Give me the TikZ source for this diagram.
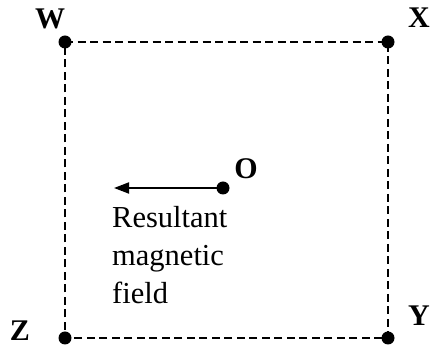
\documentclass[tikz,border=0pt]{standalone}
\usepackage{fontspec}
\setmainfont{Liberation Serif}
\usepackage{tikz}
\usetikzlibrary{positioning}
\usetikzlibrary{arrows.meta}

\tikzset{
  corner/.style={font=\fontsize{30}{36}\selectfont\bfseries},
  pt/.style={circle, fill=black, inner sep=0pt, minimum size=13pt},
  side/.style={black, line width=1.3pt, dash pattern=on 8pt off 4.5pt},
}

\begin{document}
\begin{tikzpicture}[x=1pt,y=-1pt]
  \useasboundingbox (0,0) rectangle (432,347);
  % corners of the square
  \coordinate (w) at (65,42);
  \coordinate (x) at (388,42);
  \coordinate (y) at (388,338);
  \coordinate (z) at (65,338);
  \draw[side] (w) -- (x) -- (y) -- (z) -- cycle;
  \node[pt] (W) at (w) {};
  \node[pt] (X) at (x) {};
  \node[pt] (Y) at (y) {};
  \node[pt] (Z) at (z) {};
  \node[corner] (labW) at (50,19) {W};
  \node[corner] (labX) at (419,18) {X};
  \node[corner] (labY) at (419,316) {Y};
  \node[corner] (labZ) at (20,331) {Z};
  % centre and field
  \node[pt] (O) at (223,188) {};
  \node[corner] (labO) at (246,169) {O};
  \coordinate (tip) at (114,188);
  \draw[line width=1.8pt, -{Triangle[length=15pt,width=11pt]}] (O.center) -- (tip);
  \node[align=left, anchor=north west, inner sep=0pt,
        font=\fontsize{30.5}{38}\selectfont] (txt) at (112,206.5)
        {Resultant\\magnetic\\field};
\end{tikzpicture}
\end{document}
